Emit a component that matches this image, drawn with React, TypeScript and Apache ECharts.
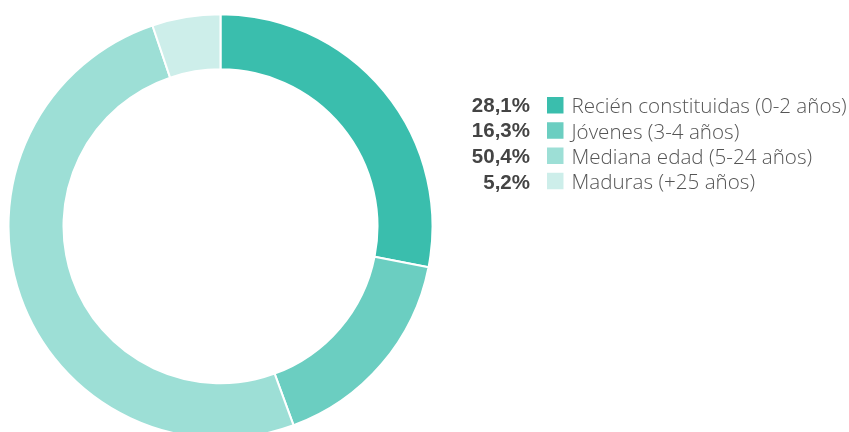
import React, { useEffect, useRef } from "react";
import * as echarts from "echarts";

const categories = [
  "Recién constituidas (0-2 años)",
  "Jóvenes (3-4 años)",
  "Mediana edad (5-24 años)",
  "Maduras (+25 años)",
];
const values = [28.1, 16.3, 50.4, 5.2];
const colors = ["#3abead", "#6bcec1", "#9ddfd6", "#cdeeea"];

const fmt = (v: number) => v.toFixed(1).replace(".", ",") + "%";

export default function App() {
  const ref = useRef<HTMLDivElement>(null);
  useEffect(() => {
    if (!ref.current) return;
    const chart = echarts.init(ref.current, undefined, { renderer: "svg" });
    const legendTop = 94.7;
    const rowStep = 25.7;
    chart.setOption({
      animation: false,
      color: colors,
      legend: {
        orient: "vertical",
        left: 545,
        top: legendTop,
        itemWidth: 18.5,
        itemHeight: 18.5,
        itemGap: 4.3,
        icon: "rect",
        selectedMode: false,
        padding: 0,
        data: categories,
        textStyle: {
          fontFamily: "'Open Sans'",
          fontWeight: 300,
          fontSize: 20.6,
          lineHeight: 18,
          height: 18,
          color: "#555",
          padding: [0, 0, 0, 2],
        },
      },
      graphic: values.map((v, i) => ({
        type: "text",
        x: 530,
        y: legendTop + 9.5 + i * rowStep,
        style: {
          text: fmt(v),
          textAlign: "right",
          textVerticalAlign: "middle",
          font: "bold 20.5px 'Liberation Sans', Arial, sans-serif",
          fill: "#444",
        },
      })),
      series: [
        {
          type: "pie",
          center: [220.5, 226.3],
          radius: [157, 212],
          startAngle: 90,
          clockwise: true,
          label: { show: false },
          labelLine: { show: false },
          emphasis: { disabled: true },
          itemStyle: { borderColor: "#fff", borderWidth: 2 },
          data: categories.map((name, i) => ({ name, value: values[i] })),
        },
      ],
    });
    return () => chart.dispose();
  }, []);
  return (
    <div
      ref={ref}
      style={{ position: "fixed", left: 0, top: 0, width: 849, height: 432 }}
    />
  );
}
